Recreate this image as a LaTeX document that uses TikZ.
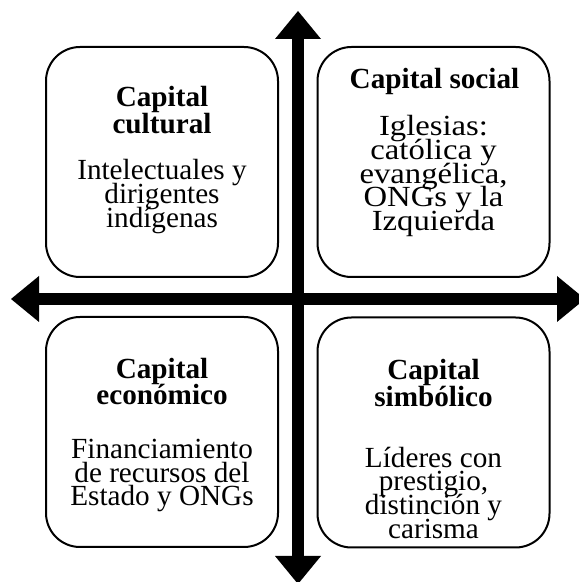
\documentclass[tikz,border=0pt]{standalone}
\usepackage{fontspec}
\setmainfont{Liberation Serif}
\usetikzlibrary{arrows.meta}
\newcommand{\tightlines}{\lineskiplimit=-100pt\relax\lineskip=0pt\relax}
\tikzset{
  capbox/.style={draw=black, line width=2pt, rounded corners=34pt,
    minimum width=232pt, minimum height=230pt, inner sep=0pt},
  captitle/.style={anchor=base, align=center, inner sep=0pt,
    font=\tightlines\fontsize{29.2}{26.5}\selectfont\bfseries},
  captext/.style={anchor=base, align=center, inner sep=0pt,
    font=\tightlines\fontsize{29.2}{23.8}\selectfont},
  axisarrow/.style={line width=12.5pt, {Triangle[width=46pt,length=28pt,line width=0pt]}-{Triangle[width=46pt,length=28pt,line width=0pt]}}
}
\begin{document}
\begin{tikzpicture}[x=1pt, y=1pt]
  \useasboundingbox (0,0) rectangle (579,582);
  \coordinate (axL) at (11,283);
  \coordinate (axR) at (585,283);
  \coordinate (axB) at (298,-2);
  \coordinate (axT) at (298,571);
  \draw[axisarrow] (axL) -- (axR);
  \draw[axisarrow] (axB) -- (axT);

  \node[capbox] (cultBox) at (162,420) {};
  \node[capbox] (socBox) at (433.5,420) {};
  \node[capbox] (ecoBox) at (162,150) {};
  \node[capbox] (simBox) at (433.5,149.5) {};

  \node[captitle] (cultTitle) at ([yshift=-87.3pt]cultBox.north) {Capital\\cultural};
  \node[captext] (cultText) at ([yshift=-181.3pt]cultBox.north) {Intelectuales y\\dirigentes\\indígenas};

  \node[captitle] (socTitle) at ([xshift=1pt,yshift=-42.3pt]socBox.north) {Capital social};
  \node[captext, xscale=1.12, transform shape] (socText) at ([yshift=-184.7pt]socBox.north) {Iglesias:\\católica y\\evangélica,\\ONGs y la\\Izquierda};

  \node[captitle] (ecoTitle) at ([yshift=-88.7pt]ecoBox.north) {Capital\\económico};
  \node[captext] (ecoText) at ([yshift=-190pt]ecoBox.north) {Financiamiento\\de recursos del\\Estado y ONGs};

  \node[captitle] (simTitle) at ([yshift=-89.7pt]simBox.north) {Capital\\simbólico};
  \node[captext] (simText) at ([yshift=-222pt]simBox.north) {Líderes con\\prestigio,\\distinción y\\carisma};
\end{tikzpicture}
\end{document}
